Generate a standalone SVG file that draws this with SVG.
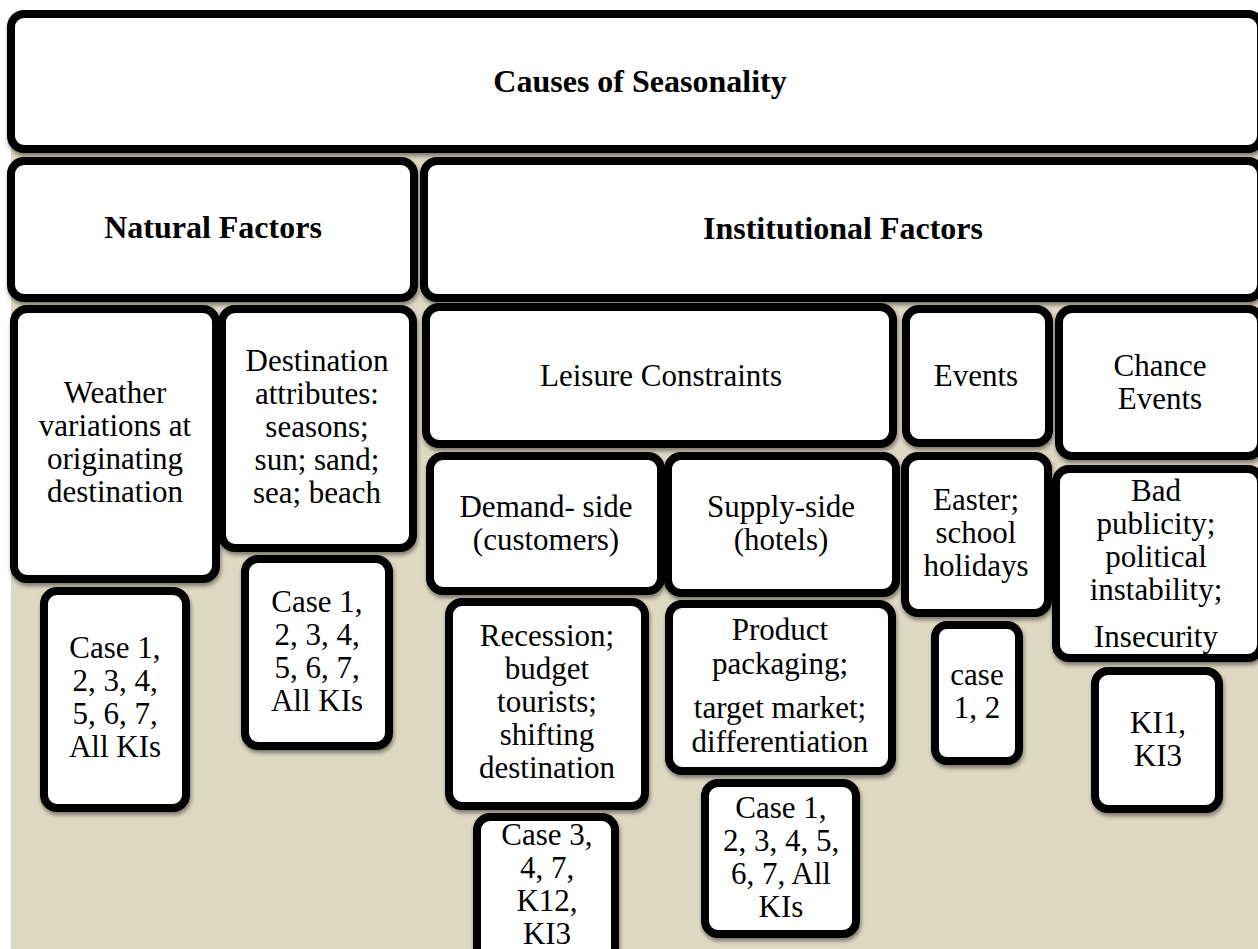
<svg xmlns="http://www.w3.org/2000/svg" width="1258" height="949" viewBox="0 0 1258 949">
<defs>
<filter id="sh" x="-10%" y="-10%" width="130%" height="130%">
<feDropShadow dx="1" dy="3" stdDeviation="2" flood-color="#000" flood-opacity="0.45"/>
</filter>
<style>
.box{fill:#fff;stroke:#000;stroke-width:8;filter:url(#sh)}
.t{font-family:"Liberation Serif","Times New Roman",serif;font-size:31px;fill:#000;text-anchor:middle}
.b{font-weight:bold;font-size:32px}
</style>
</defs>
<rect x="0" y="0" width="1258" height="949" fill="#fff"/>
<rect x="11" y="14" width="1247" height="935" fill="#DDD9C3"/>
<g id="connectors"/>
<g id="causes"><rect class="box" x="11" y="14" width="1250" height="135" rx="13"/><text class="t b" x="640" y="92">Causes of Seasonality</text></g>
<g id="natural"><rect class="box" x="11" y="161" width="403" height="137" rx="13"/><text class="t b" x="213" y="238">Natural Factors</text></g>
<g id="institutional"><rect class="box" x="424" y="161" width="837" height="137" rx="13"/><text class="t b" x="843" y="239">Institutional Factors</text></g>
<g id="weather"><rect class="box" x="14" y="309" width="202" height="270" rx="13"/><text class="t" x="115"><tspan x="115" y="403">Weather</tspan><tspan x="115" y="436">variations at</tspan><tspan x="115" y="469">originating</tspan><tspan x="115" y="502">destination</tspan></text></g>
<g id="destination"><rect class="box" x="222" y="309" width="191" height="239" rx="13"/><text class="t" x="317"><tspan x="317" y="371">Destination</tspan><tspan x="317" y="404">attributes:</tspan><tspan x="317" y="437">seasons;</tspan><tspan x="317" y="470">sun; sand;</tspan><tspan x="317" y="503">sea; beach</tspan></text></g>
<g id="leisure"><rect class="box" x="426" y="307" width="467" height="137" rx="13"/><text class="t" x="661" y="386">Leisure Constraints</text></g>
<g id="events"><rect class="box" x="906" y="309" width="143" height="134" rx="13"/><text class="t" x="976" y="386">Events</text></g>
<g id="chance"><rect class="box" x="1059" y="309" width="202" height="147" rx="13"/><text class="t" x="1160"><tspan x="1160" y="376">Chance</tspan><tspan x="1160" y="409">Events</tspan></text></g>
<g id="demand"><rect class="box" x="430" y="456" width="231" height="135" rx="13"/><text class="t" x="546"><tspan x="546" y="517">Demand- side</tspan><tspan x="546" y="550">(customers)</tspan></text></g>
<g id="supply"><rect class="box" x="668" y="456" width="228" height="137" rx="13"/><text class="t" x="781"><tspan x="781" y="517">Supply-side</tspan><tspan x="781" y="550">(hotels)</tspan></text></g>
<g id="easter"><rect class="box" x="905" y="456" width="143" height="157" rx="13"/><text class="t" x="976"><tspan x="976" y="510">Easter;</tspan><tspan x="976" y="543">school</tspan><tspan x="976" y="576">holidays</tspan></text></g>
<g id="badpublicity"><rect class="box" x="1056" y="469" width="205" height="189" rx="13"/><text class="t" x="1156"><tspan x="1156" y="501">Bad</tspan><tspan x="1156" y="534">publicity;</tspan><tspan x="1156" y="567">political</tspan><tspan x="1156" y="600">instability;</tspan><tspan x="1156" y="647">Insecurity</tspan></text></g>
<g id="recession"><rect class="box" x="449" y="602" width="196" height="204" rx="13"/><text class="t" x="547"><tspan x="547" y="646">Recession;</tspan><tspan x="547" y="679">budget</tspan><tspan x="547" y="712">tourists;</tspan><tspan x="547" y="745">shifting</tspan><tspan x="547" y="778">destination</tspan></text></g>
<g id="product"><rect class="box" x="669" y="604" width="223" height="167" rx="13"/><text class="t" x="780"><tspan x="780" y="640">Product</tspan><tspan x="780" y="674">packaging;</tspan><tspan x="780" y="718">target market;</tspan><tspan x="780" y="752">differentiation</tspan></text></g>
<g id="weather-cases"><rect class="box" x="44" y="591" width="142" height="217" rx="13"/><text class="t" x="115"><tspan x="115" y="658">Case 1,</tspan><tspan x="115" y="691">2, 3, 4,</tspan><tspan x="115" y="724">5, 6, 7,</tspan><tspan x="115" y="757">All KIs</tspan></text></g>
<g id="destination-cases"><rect class="box" x="245" y="559" width="144" height="187" rx="13"/><text class="t" x="317"><tspan x="317" y="612">Case 1,</tspan><tspan x="317" y="645">2, 3, 4,</tspan><tspan x="317" y="678">5, 6, 7,</tspan><tspan x="317" y="711">All KIs</tspan></text></g>
<g id="events-cases"><rect class="box" x="935" y="625" width="84" height="136" rx="12"/><text class="t" x="977"><tspan x="977" y="685">case</tspan><tspan x="977" y="718">1, 2</tspan></text></g>
<g id="chance-cases"><rect class="box" x="1095" y="671" width="124" height="138" rx="13"/><text class="t" x="1158"><tspan x="1158" y="733">KI1,</tspan><tspan x="1158" y="766">KI3</tspan></text></g>
<g id="demand-cases"><rect class="box" x="477" y="817" width="138" height="145" rx="13"/><text class="t" x="547"><tspan x="547" y="845">Case 3,</tspan><tspan x="547" y="878">4, 7,</tspan><tspan x="547" y="911">K12,</tspan><tspan x="547" y="944">KI3</tspan></text></g>
<g id="supply-cases"><rect class="box" x="705" y="783" width="151" height="151" rx="13"/><text class="t" x="781"><tspan x="781" y="818">Case 1,</tspan><tspan x="781" y="851">2, 3, 4, 5,</tspan><tspan x="781" y="884">6, 7, All</tspan><tspan x="781" y="917">KIs</tspan></text></g>
</svg>
